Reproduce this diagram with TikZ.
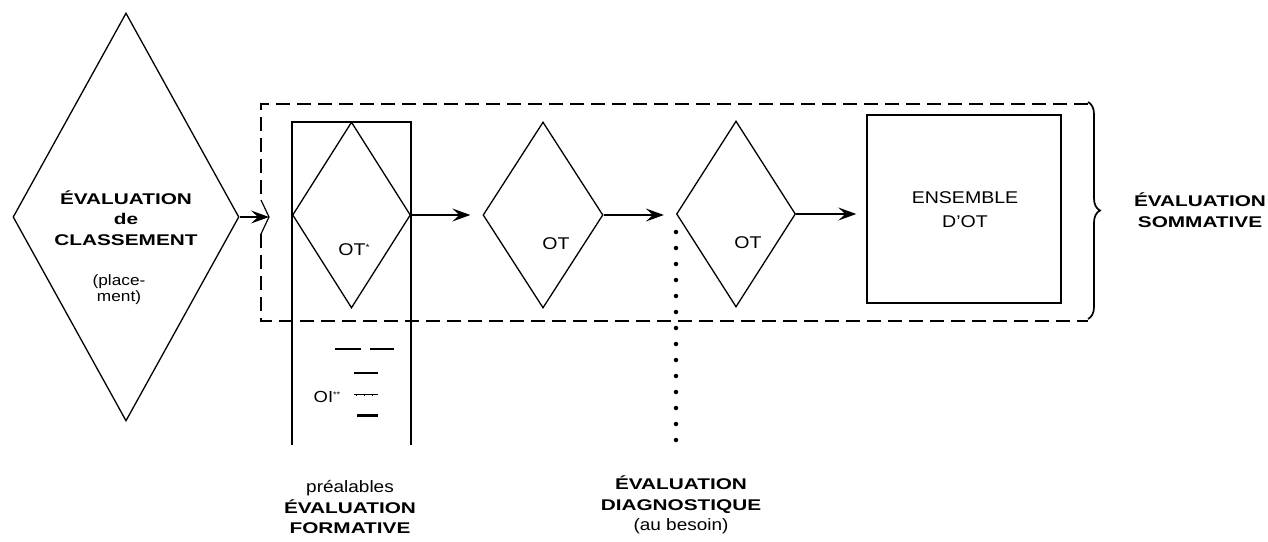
\documentclass[tikz,border=0pt]{standalone}
\usepackage{fontspec}
\setmainfont{Liberation Sans}[FakeStretch=1.15]
\newfontfamily\bfam{Liberation Sans}[FakeStretch=1.34]
\usetikzlibrary{shapes.geometric,arrows.meta,decorations.pathreplacing}
\begin{document}
\begin{tikzpicture}[x=1pt,y=-1pt,
  dia/.style={diamond,draw,line width=1.3pt,inner sep=0pt,minimum width=#1},
  dia/.default=120pt,
  box/.style={rectangle,draw,line width=1.4pt,inner sep=0pt},
  flow/.style={line width=1.2pt,-{Stealth[length=18pt,width=13pt,inset=7pt]},shorten >=12pt},
  frame/.style={line width=1.2pt,dash pattern=on 14pt off 7pt},
  dots/.style={line width=4.5pt,line cap=round,dash pattern=on 0pt off 16pt},
  btxt/.style={font=\bfam\bfseries\fontsize{15.5}{20.5}\selectfont,align=center,inner sep=0pt},
  rtxt/.style={font=\fontsize{17}{24}\selectfont,align=center,inner sep=0pt},
  stxt/.style={font=\fontsize{15}{16}\selectfont,align=center,inner sep=0pt}
]
\useasboundingbox (0,0) rectangle (1268,541);

% diamonds and square
\node[dia=226pt,minimum height=408pt] (D0) at (126,217) {};
\node[dia=118pt,minimum height=186pt] (D1) at (351.5,215) {};
\node[dia=120pt,minimum height=186pt] (D2) at (543,215) {};
\node[dia=119pt,minimum height=186pt] (D3) at (736,214) {};
\node[box,minimum width=194pt,minimum height=188pt] (S) at (964,209) {};

% column around first OT
\draw[line width=1.4pt] (292,445) -- (292,122) -- (411,122) -- (411,445);

% dashed frame with kink
\coordinate (K) at (269,217);
\draw[frame] (1088,104) -- (261,104) -- (261,200);
\draw[line width=1.2pt] (261,200) -- (K) -- (261,234);
\draw[frame] (261,234) -- (261,321) -- (1088,321);
\draw[line width=1.7pt,decorate,decoration={brace,amplitude=12pt}] (1088,102) -- (1088,319);

% arrows
\draw[flow,shorten >=0pt] (D0.east) -- (K);
\draw[flow] (D1.east) -- (D1.east -| D2.west);
\draw[flow] (D2.east) -- (D2.east -| D3.west);
\draw[flow,shorten >=10pt] (D3.east) -- (D3.east -| S.west);

% dotted diagnostic line
\coordinate (P1) at (676,232);
\coordinate (P2) at (676,445);
\draw[dots] (P1) -- (P2);

% OI marks
\draw[line width=1.6pt] (335,349) -- (361,349) (370,349) -- (394,349);
\draw[line width=1.5pt] (354,373) -- (378,373);
\draw[line width=0.8pt] (354,394) -- (378,394);
\draw[line width=0.8pt] (356,394) -- (356,396) (364,394) -- (364,396) (372,394) -- (372,396);
\draw[line width=3pt] (357,415) -- (378,415);

% texts
\node[btxt] (t0) at (126,218) {ÉVALUATION\\de\\CLASSEMENT};
\node[stxt] (t0b) at (119,290) {(place-\\ment)};
\node[rtxt] (t1) at (354,250) {OT\raisebox{5pt}{\fontsize{9}{9}\selectfont *}};
\node[rtxt] (t2) at (556,244) {OT};
\node[rtxt] (t3) at (748,243) {OT};
\node[rtxt] (t4) at (965,210) {ENSEMBLE\\D'OT};
\node[btxt] (t5) at (1200,210) {ÉVALUATION\\SOMMATIVE};
\node[stxt,font=\fontsize{16}{16}\selectfont] (t6) at (327,397) {OI\raisebox{5pt}{\fontsize{8}{8}\selectfont **}};
\node[btxt] (t7) at (350,507) {{\normalfont\fontsize{16.5}{20.5}\selectfont préalables}\\ÉVALUATION\\FORMATIVE};
\node[btxt] (t8) at (681,505) {ÉVALUATION\\DIAGNOSTIQUE\\{\normalfont\fontsize{16.5}{20.5}\selectfont (au besoin)}};
\end{tikzpicture}
\end{document}
